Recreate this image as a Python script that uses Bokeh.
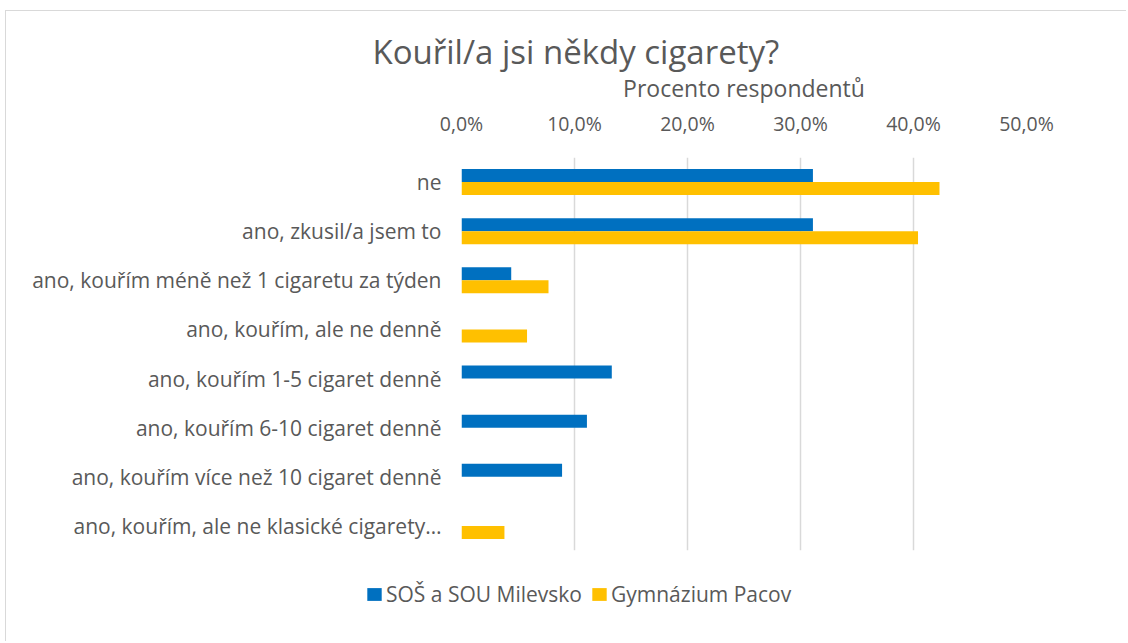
from bokeh.plotting import figure
from bokeh.layouts import column, row
from bokeh.models import (ColumnDataSource, FactorRange, Range1d, FixedTicker,
                          CustomJSTickFormatter, LinearAxis, Legend, LegendItem)
from bokeh.transform import dodge
from bokeh.embed import file_html
from bokeh.resources import INLINE

categories = [
    "ne",
    "ano, zkusil/a jsem to",
    "ano, kouřím méně než 1 cigaretu za týden",
    "ano, kouřím, ale ne denně",
    "ano, kouřím 1-5 cigaret denně",
    "ano, kouřím 6-10 cigaret denně",
    "ano, kouřím více než 10 cigaret denně",
    "ano, kouřím, ale ne klasické cigarety…",
]
series_names = ["SOŠ a SOU Milevsko", "Gymnázium Pacov"]
series_colors = ["#0070C0", "#FFC000"]
milevsko = [31.1, 31.1, 4.4, 0.0, 13.3, 11.1, 8.9, 0.0]
pacov = [42.3, 40.4, 7.7, 5.8, 0.0, 0.0, 0.0, 3.8]
x_ticks = [0, 10, 20, 30, 40, 50]

FONT = "Open Sans"
GREY = "#595959"

src = ColumnDataSource(dict(cat=categories, a=milevsko, b=pacov))

p = figure(width=1120, height=560, output_backend="svg", toolbar_location=None,
           y_range=FactorRange(factors=list(reversed(categories))),
           x_range=Range1d(0, 50), x_axis_location=None,
           min_border_left=455, min_border_right=100, min_border_top=146,
           min_border_bottom=21)
p.outline_line_color = None

p.hbar(y=dodge("cat", 0.1325, range=p.y_range), right="a", left=0, height=0.265,
       source=src, fill_color=series_colors[0], line_color=None)
p.hbar(y=dodge("cat", -0.1325, range=p.y_range), right="b", left=0, height=0.265,
       source=src, fill_color=series_colors[1], line_color=None)

xa = LinearAxis(ticker=FixedTicker(ticks=x_ticks),
                formatter=CustomJSTickFormatter(code="return tick.toFixed(1).replace('.', ',') + '%';"),
                axis_label="Procento respondentů")
xa.axis_line_color = None
xa.major_tick_line_color = None
xa.minor_tick_line_color = None
xa.major_label_text_font = FONT
xa.major_label_text_font_size = "19.5px"
xa.major_label_text_color = GREY
xa.major_label_standoff = 15
xa.axis_label_text_font = FONT
xa.axis_label_text_font_size = "23px"
xa.axis_label_text_font_style = "normal"
xa.axis_label_text_color = GREY
xa.axis_label_standoff = 3
p.add_layout(xa, "above")

p.xgrid.ticker = FixedTicker(ticks=x_ticks)
p.xgrid.grid_line_color = "#d9d9d9"
p.xgrid.grid_line_width = 1.5
p.ygrid.grid_line_color = None

ya = p.yaxis[0]
ya.axis_line_color = None
ya.major_tick_line_color = None
ya.minor_tick_line_color = None
ya.major_label_text_font = FONT
ya.major_label_text_font_size = "21px"
ya.major_label_text_color = GREY
ya.major_label_standoff = 14

p.title.text = "Kouřil/a jsi někdy cigarety?"
p.title.text_font = FONT
p.title.text_font_size = "33px"
p.title.text_font_style = "normal"
p.title.text_color = GREY
p.title.align = "left"
p.title.offset = -89
p.title.standoff = -11

# legend strip below the chart (same series; its bars fall outside this strip's range)
p2 = figure(width=1120, height=70, output_backend="svg", toolbar_location=None,
            x_range=Range1d(-2, -1), y_range=FactorRange(factors=list(reversed(categories))),
            min_border=0, x_axis_location=None, y_axis_location=None)
p2.outline_line_color = None
p2.grid.visible = False
l1 = p2.hbar(y="cat", right="a", left=0, height=0.5, source=src,
             fill_color=series_colors[0], line_color=None)
l2 = p2.hbar(y="cat", right="b", left=0, height=0.5, source=src,
             fill_color=series_colors[1], line_color=None)
legend = Legend(items=[LegendItem(label=series_names[0], renderers=[l1]),
                       LegendItem(label=series_names[1], renderers=[l2])],
                orientation="horizontal", location=(359, 33),
                label_text_font=FONT, label_text_font_size="21px",
                label_text_color=GREY, glyph_width=18, glyph_height=16,
                label_standoff=3, spacing=8, border_line_color=None,
                background_fill_alpha=0, padding=0, margin=0)
p2.add_layout(legend, "center")

layout = column(p, row(p2), spacing=0)
layout.styles = {"margin-left": "5px", "margin-top": "10px",
                 "border-top": "1px solid #d9d9d9", "border-left": "1px solid #d9d9d9"}

open("out.html", "w").write(file_html(layout, INLINE))
